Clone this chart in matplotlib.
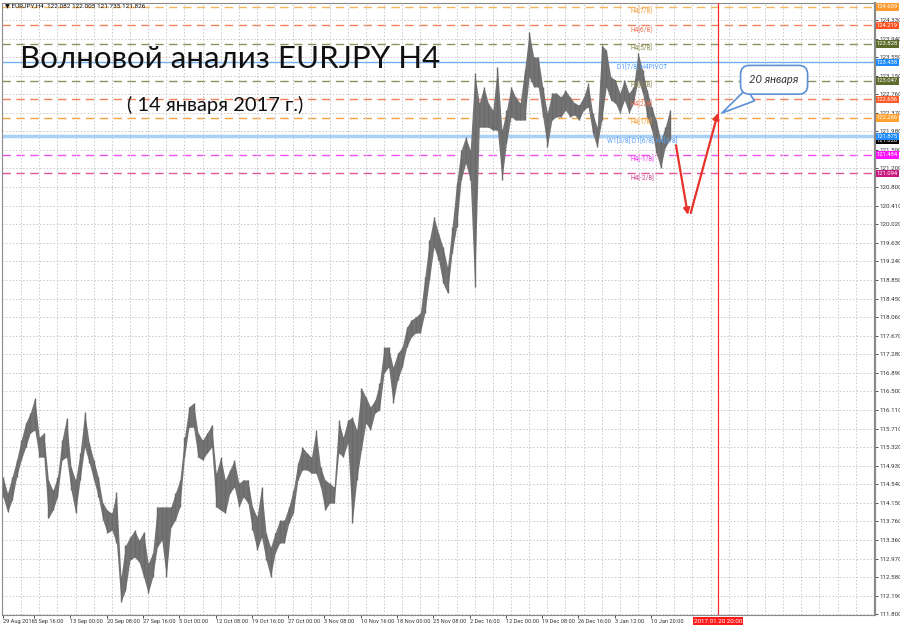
'''EURJPY H4 wave analysis chart, MT4 look'''
import numpy as np
import matplotlib
matplotlib.use('Agg')
import matplotlib.pyplot as plt
from matplotlib.transforms import blended_transform_factory

symbol_info = '\u25bc EURJPY,H4  122.082 122.005 121.735 121.826'
title = 'Волновой анализ EURJPY H4'
subtitle = '( 14 января 2017 г.)'
callout_text = '20 января'

# H4 price range, one sample every 4 bars (high / low)
bar_step = 4
highs = [114.69, 114.35, 114.69, 115.05, 115.47, 115.83, 116.04, 116.36, 115.53, 115.62,
         114.63, 114.41, 114.69, 115.47, 115.93, 114.90, 114.63, 115.20, 116.06, 115.41,
         115.05, 114.69, 114.14, 113.99, 113.93, 114.37, 112.58, 113.25, 113.42, 113.57,
         113.36, 113.53, 112.87, 113.09, 114.06, 114.06, 114.06, 114.06, 114.35, 114.63,
         115.53, 116.17, 116.25, 115.62, 115.47, 115.62, 115.79, 114.77, 115.11, 114.63,
         114.84, 115.05, 114.56, 114.63, 114.63, 114.06, 113.85, 114.48, 113.51, 113.21,
         113.51, 113.78, 113.78, 114.06, 114.41, 114.99, 115.32, 115.20, 115.11, 115.68,
         114.90, 114.63, 114.56, 114.48, 115.89, 115.53, 115.89, 115.95, 115.68, 116.57,
         116.38, 116.17, 116.31, 116.67, 117.43, 117.43, 117.01, 117.30, 117.43, 117.85,
         118.00, 118.07, 118.15, 118.91, 119.69, 120.18, 119.84, 119.54, 119.12, 119.96,
         120.89, 121.59, 121.86, 121.59, 123.21, 122.58, 122.92, 122.58, 122.43, 123.34,
         122.01, 122.43, 122.92, 122.71, 122.58, 123.28, 124.08, 123.55, 123.55, 122.92,
         122.37, 122.79, 122.79, 122.71, 122.85, 122.71, 122.58, 122.54, 122.71, 123.00,
         122.37, 122.07, 123.80, 123.70, 123.13, 123.07, 122.79, 123.07, 122.79, 122.92,
         123.64, 123.28, 122.85, 122.50, 122.22, 121.80, 122.07, 122.43]
lows = [114.27, 113.95, 114.20, 114.69, 115.05, 115.32, 115.62, 115.68, 115.11, 115.11,
        113.82, 113.99, 114.27, 115.05, 115.11, 114.41, 113.93, 114.63, 115.32, 114.99,
        114.63, 114.27, 113.78, 113.51, 113.57, 113.30, 112.05, 112.30, 112.94, 113.00,
        112.90, 112.58, 112.24, 112.58, 113.21, 113.36, 112.58, 113.63, 113.78, 114.06,
        115.11, 115.74, 115.74, 115.11, 115.05, 115.20, 115.32, 114.06, 113.99, 113.93,
        114.35, 114.48, 114.06, 114.27, 114.14, 113.57, 113.15, 113.42, 112.94, 112.58,
        113.09, 113.30, 113.30, 113.72, 113.93, 114.63, 114.84, 114.84, 114.77, 114.77,
        114.48, 113.99, 114.14, 114.14, 115.20, 115.11, 115.41, 113.72, 114.63, 115.26,
        115.83, 115.68, 116.04, 116.10, 116.88, 117.01, 116.25, 116.74, 117.01, 117.43,
        117.64, 117.73, 117.73, 118.15, 118.85, 119.54, 119.27, 118.78, 118.57, 119.42,
        119.96, 120.96, 121.31, 120.96, 118.70, 122.07, 122.07, 122.07, 122.01, 122.01,
        120.96, 121.74, 122.29, 122.22, 122.22, 122.22, 123.13, 122.92, 122.92, 122.29,
        121.65, 122.22, 122.29, 122.29, 122.43, 122.29, 122.33, 122.22, 122.43, 122.50,
        121.94, 121.65, 122.22, 122.92, 122.64, 122.58, 122.37, 122.64, 122.37, 122.58,
        123.07, 122.79, 122.29, 122.01, 121.53, 121.21, 121.65, 121.80]
last_price = 121.826

# Murrey math levels
level_prices = [124.609, 124.219, 123.828, 123.438, 123.047,
                122.656, 122.266, 121.875, 121.484, 121.094]
level_names = ['H4[7/8]', 'H4[6/8]', 'H4[5/8]', 'D1[7/8] H4PIVOT', 'H4[3/8]',
               'H4[2/8]', 'H4[1/8]', 'W1[3/8] D1[6/8] H4[0/8]', 'H4[-1/8]', 'H4[-2/8]']
level_colors = ['#f7b55e', '#f2805a', '#8f9060', '#6fb0f5', '#8f9060',
                '#f2805a', '#f9a340', '#a9d0f7', '#f050f0', '#e0559c']
level_text_colors = ['#f0a040', '#f07050', '#8a8a50', '#5aa0f5', '#8a8a50',
                     '#f07050', '#f0a030', '#5aa0f5', '#f030f0', '#d04090']
level_box_colors = ['#ff9a30', '#ff4f1f', '#5c6b2a', '#1e8cff', '#5c6b2a',
                    '#ff5a2a', '#ffa030', '#1e8cff', '#ff10ff', '#c8187e']
level_styles = ['--', '--', '--', '-', '--', '--', '--', '-', '--', '--']
level_widths = [1.0, 1.0, 1.0, 1.0, 1.0, 1.0, 1.0, 2.5, 1.0, 1.0]

price_ticks = [111.800, 112.190, 112.580, 112.970, 113.360, 113.760, 114.150, 114.540,
               114.930, 115.320, 115.710, 116.110, 116.500, 116.890, 117.280, 117.670,
               118.060, 118.450, 118.850, 119.240, 119.630, 120.020, 120.410, 120.800,
               121.200, 121.590, 121.980, 122.370, 122.760, 123.150, 123.550, 123.940,
               124.330]
date_labels = ['29 Aug 2016', '5 Sep 16:00', '13 Sep 00:00', '20 Sep 08:00', '27 Sep 16:00',
               '5 Oct 00:00', '12 Oct 08:00', '19 Oct 16:00', '27 Oct 00:00', '3 Nov 08:00',
               '10 Nov 16:00', '18 Nov 00:00', '25 Nov 08:00', '2 Dec 16:00', '12 Dec 00:00',
               '19 Dec 08:00', '26 Dec 16:00', '3 Jan 12:00', '10 Jan 20:00']
date_first_bar = 27.5
date_step = 32

# forecast: down leg, then up leg to the 20 Jan line
forecast_bars = [593.5, 604.0, 606.5, 630.5]
forecast_prices = [121.69, 120.22, 120.26, 122.37]
event_bar = 630.5
event_label = '2017.01.20 20:00'
callout_at = (634, 122.37)
callout_box = (680, 123.07)

small_font = ['Roboto', 'DejaVu Sans']

fig = plt.figure(figsize=(9, 6.29), dpi=100)
ax = fig.add_axes([2 / 900, 14 / 629, 873 / 900, 612 / 629])
ax.set_xlim(-0.9, 769)
ax.set_ylim(111.78, 124.69)

# grid
ax.set_yticks(price_ticks)
ax.set_yticklabels(['%.3f' % p for p in price_ticks])
ax.set_xticks(np.arange(0, 770, 16), minor=True)
ax.set_xticks([0] + [date_first_bar + date_step * k for k in range(len(date_labels) - 1)])
ax.set_xticklabels(date_labels, ha='left')
ax.grid(True, which='minor', axis='x', linestyle=(0, (1.5, 2)), color='#c8c8c8', lw=0.7)
ax.grid(True, which='major', axis='y', linestyle=(0, (1.5, 2)), color='#c8c8c8', lw=0.7)
ax.yaxis.tick_right()
ax.tick_params(axis='both', labelsize=4.5, length=2, width=0.6, colors='#333333', pad=1)
ax.tick_params(axis='x', labelsize=4.1)
ax.tick_params(axis='x', which='minor', length=0)
for lbl in ax.get_xticklabels() + ax.get_yticklabels():
    lbl.set_family(small_font)
for s in ax.spines.values():
    s.set_color('#8a8a8a')
ax.spines['right'].set_linewidth(1.6)

# levels
blend_y = blended_transform_factory(ax.transAxes, ax.transData)
for p, c, ls, w in zip(level_prices, level_colors, level_styles, level_widths):
    ax.axhline(p, color=c, ls=(0, (6, 4)) if ls == '--' else '-', lw=w, zorder=1)
for p, n, c in zip(level_prices, level_names, level_text_colors):
    ax.text(563.5, p - 0.02, n, ha='center', va='top', fontsize=4.8, color=c, zorder=3,
            family=small_font)

# price bars
bars = np.arange(len(highs)) * bar_step
ax.fill_between(bars, lows, highs, color='#737373', lw=0, zorder=2)
ax.vlines(bars, lows, highs, color='#6a6a6a', lw=1.0, zorder=2)

# right side price boxes
ax.text(1.002, last_price - 0.04, '121.826', transform=blend_y, fontsize=4.2, color='white',
        va='center', ha='left', bbox=dict(boxstyle='square,pad=0.2', fc='black', ec='none'),
        clip_on=False, zorder=5, family=small_font)
for p, bc in zip(level_prices, level_box_colors):
    ax.text(1.002, p, '%.3f' % p, transform=blend_y, fontsize=4.2, color='white',
            va='center', ha='left', bbox=dict(boxstyle='square,pad=0.2', fc=bc, ec='none'),
            clip_on=False, zorder=6, family=small_font)

# event line
ax.axvline(event_bar, color='#ff2a2a', lw=0.9, zorder=3)
blend_x = blended_transform_factory(ax.transData, ax.transAxes)
ax.text(event_bar, -0.006, event_label, transform=blend_x, ha='center', va='top',
        fontsize=4.5, color='white', clip_on=False,
        bbox=dict(boxstyle='square,pad=0.2', fc='#ff1a1a', ec='none'), family=small_font)

# forecast arrows
for i in (0, 2):
    ax.annotate('', xy=(forecast_bars[i + 1], forecast_prices[i + 1]),
                xytext=(forecast_bars[i], forecast_prices[i]),
                arrowprops=dict(arrowstyle='-|>', color='#e8312a', lw=1.6,
                                mutation_scale=9, shrinkA=0, shrinkB=0), zorder=7)

# callout
ax.annotate(callout_text, xy=callout_at, xytext=callout_box, ha='center', va='center',
            fontsize=8, style='italic', color='#333333', zorder=8, family=['Lato', 'DejaVu Sans'],
            bbox=dict(boxstyle='round,pad=0.8', fc='white', ec='#5b8fd6', lw=1.2),
            arrowprops=dict(arrowstyle='wedge,tail_width=1.3', fc='white', ec='#5b8fd6',
                            lw=1.2, shrinkA=0, shrinkB=0))

# texts
fig.text(5 / 900, 1 - 6 / 629, symbol_info, fontsize=4.6, va='center', ha='left',
         color='#111111', family=small_font)
fig.text(20 / 900, 1 - 68 / 629, title, fontsize=22.5, va='baseline', ha='left', color='#111111',
         family=['Lato', 'DejaVu Sans'])
fig.text(127 / 900, 1 - 111 / 629, subtitle, fontsize=14.5, va='baseline', ha='left',
         color='#111111', family=['Lato', 'DejaVu Sans'])

fig.savefig('out.png', dpi=100)
